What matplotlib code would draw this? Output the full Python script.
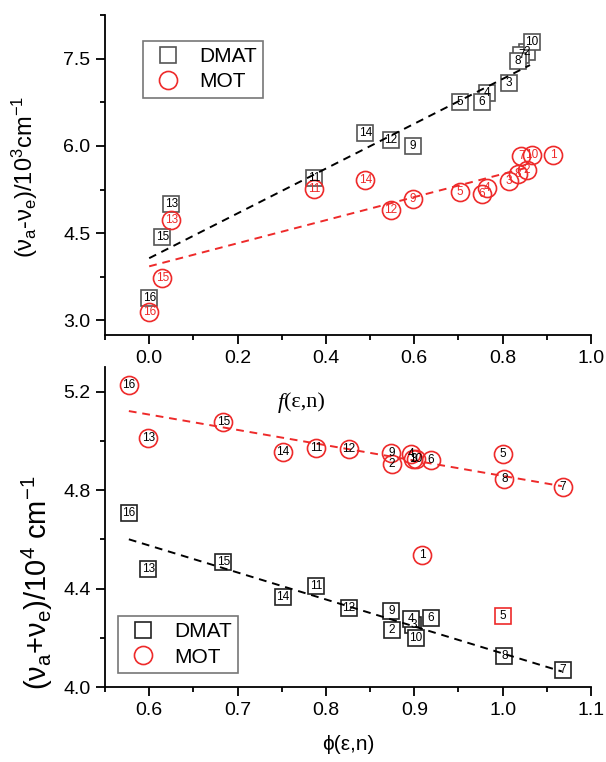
import numpy as np
import matplotlib
matplotlib.use("Agg")
import matplotlib.pyplot as plt
from matplotlib.ticker import MultipleLocator
from matplotlib.lines import Line2D

plt.rcParams["font.family"] = ["Liberation Sans", "DejaVu Sans"]
plt.rcParams["mathtext.fontset"] = "custom"
plt.rcParams["mathtext.rm"] = "Liberation Sans"
plt.rcParams["mathtext.it"] = "Liberation Sans:italic"

RED = "#ee2a2a"

# solvent numbers 1..16
solvent_ids = list(range(1, 17))
f_vals = [0.914, 0.855, 0.814, 0.764, 0.703, 0.753, 0.842, 0.835,
          0.596, 0.866, 0.373, 0.547, 0.050, 0.489, 0.030, 0.0]
phi_vals = [0.909, 0.875, 0.899, 0.896, 1.000, 0.919, 1.068, 1.002,
            0.874, 0.902, 0.789, 0.826, 0.599, 0.751, 0.684, 0.577]

# (va - ve) / 10^3 cm-1 ; DMAT has no value for solvent 1
dmat_diff = [np.nan, 7.61, 7.08, 6.91, 6.76, 6.76, 7.56, 7.46,
             6.00, 7.78, 5.44, 6.10, 5.00, 6.22, 4.44, 3.39]
mot_diff = [5.85, 5.58, 5.40, 5.27, 5.21, 5.17, 5.82, 5.52,
            5.09, 5.85, 5.26, 4.89, 4.72, 5.41, 3.73, 3.15]

# (va + ve) / 10^4 cm-1
dmat_sum = [np.nan, 4.230, 4.251, 4.278, 4.290, 4.281, 4.070, 4.126,
            4.308, 4.201, 4.410, 4.319, 4.479, 4.366, 4.508, 4.705]
mot_sum = [4.535, 4.905, 4.925, 4.947, 4.947, 4.922, 4.811, 4.845,
           4.949, 4.926, 4.970, 4.966, 5.010, 4.956, 5.078, 5.227]

# fitted lines (end points)
top_fit_x = [0.0, 0.862]
dmat_diff_fit = [4.07, 7.39]
mot_diff_fit = [3.93, 5.64]
bot_fit_x = [0.577, 1.067]
dmat_sum_fit = [4.600, 4.063]
mot_sum_fit = [5.121, 4.816]

# DMAT point drawn with red outline in the lower panel
red_square_ids = [5]


def style_axes(ax):
    ax.spines["top"].set_visible(False)
    ax.spines["right"].set_visible(False)
    for s in ("left", "bottom"):
        ax.spines[s].set_linewidth(1.3)
    ax.tick_params(which="major", direction="out", length=6.5, width=1.3,
                   labelsize=14, pad=4)
    ax.tick_params(which="minor", direction="out", length=3.5, width=1.3)


def draw_points(ax, xs, ys, marker, edge, text_color, size, face, z):
    for n, x, y in zip(solvent_ids, xs, ys):
        if np.isnan(y):
            continue
        ec = edge
        if marker == "s" and edge != "#555555" and n in red_square_ids:
            ec = RED
        ax.plot(x, y, marker=marker, ms=size, mfc=face, mec=ec, mew=1.2,
                ls="none", zorder=z)
        ax.text(x, y, str(n), ha="center", va="center", fontsize=8.5,
                color=text_color, zorder=10)


fig = plt.figure(figsize=(6.06, 7.62), dpi=100)
ax1 = fig.add_axes([105 / 606, 1 - 335 / 762, 486 / 606, 320 / 762])
ax2 = fig.add_axes([105 / 606, 1 - 687 / 762, 486 / 606, 320 / 762])

# upper panel
style_axes(ax1)
draw_points(ax1, f_vals, dmat_diff, "s", "#555555", "black", 12, "white", 3)
draw_points(ax1, f_vals, mot_diff, "o", RED, RED, 13, "none", 4)
ax1.plot(top_fit_x, dmat_diff_fit, color="black", ls=(0, (4, 3)), lw=1.4, zorder=5)
ax1.plot(top_fit_x, mot_diff_fit, color=RED, ls=(0, (4, 3)), lw=1.4, zorder=5)
ax1.set_xlim(-0.1, 1.0)
ax1.set_ylim(2.75, 8.25)
ax1.xaxis.set_major_locator(MultipleLocator(0.2))
ax1.xaxis.set_minor_locator(MultipleLocator(0.1))
ax1.yaxis.set_major_locator(MultipleLocator(1.5))
ax1.yaxis.set_minor_locator(MultipleLocator(0.75))
ax1.yaxis.set_major_formatter(plt.FormatStrFormatter("%.1f"))

h1 = [Line2D([], [], marker="s", ms=12, mfc="none", mec="#555555", mew=1.2, ls="none"),
      Line2D([], [], marker="o", ms=13, mfc="none", mec=RED, mew=1.2, ls="none")]
leg1 = ax1.legend(h1, ["DMAT", "MOT"], loc="upper left",
                  bbox_to_anchor=(0.078, 0.919), borderaxespad=0, fontsize=15,
                  frameon=True, fancybox=False, edgecolor="#555555",
                  handletextpad=0.6, labelspacing=0.3, borderpad=0.3,
                  handlelength=1.8)
leg1.get_frame().set_linewidth(1.2)

fig.text(25 / 606, 1 - 177 / 762,
         "(ν$_\\mathrm{a}$-ν$_\\mathrm{e}$)/10$^\\mathrm{3}$cm$^\\mathrm{-1}$",
         rotation=90, ha="center", va="center", fontsize=17)

# lower panel
style_axes(ax2)
draw_points(ax2, phi_vals, dmat_sum, "s", "#222222", "black", 12, "white", 3)
draw_points(ax2, phi_vals, mot_sum, "o", RED, "black", 13, "none", 4)
ax2.plot(bot_fit_x, dmat_sum_fit, color="black", ls=(0, (4, 3)), lw=1.4, zorder=5)
ax2.plot(bot_fit_x, mot_sum_fit, color=RED, ls=(0, (4, 3)), lw=1.4, zorder=5)
ax2.set_xlim(0.55, 1.1)
ax2.set_ylim(4.0, 5.3)
ax2.xaxis.set_major_locator(MultipleLocator(0.1))
ax2.xaxis.set_minor_locator(MultipleLocator(0.05))
ax2.yaxis.set_major_locator(MultipleLocator(0.4))
ax2.yaxis.set_minor_locator(MultipleLocator(0.2))
ax2.yaxis.set_major_formatter(plt.FormatStrFormatter("%.1f"))

h2 = [Line2D([], [], marker="s", ms=12, mfc="none", mec="#222222", mew=1.2, ls="none"),
      Line2D([], [], marker="o", ms=13, mfc="none", mec=RED, mew=1.2, ls="none")]
leg2 = ax2.legend(h2, ["DMAT", "MOT"], loc="lower left",
                  bbox_to_anchor=(0.027, 0.044), borderaxespad=0, fontsize=15,
                  frameon=True, fancybox=False, edgecolor="#555555",
                  handletextpad=0.6, labelspacing=0.3, borderpad=0.3,
                  handlelength=1.8)
leg2.get_frame().set_linewidth(1.2)

ax2.set_xlabel("ϕ(ε,n)", fontsize=15, labelpad=12)
fig.text(37 / 606, 1 - 583 / 762,
         "(ν$_\\mathrm{a}$+ν$_\\mathrm{e}$)/10$^\\mathrm{4}$ cm$^\\mathrm{-1}$",
         rotation=90, ha="center", va="center", fontsize=21)

# x label of the upper panel sits inside the lower panel area
fig.text(284 / 606, 1 - 403 / 762, "f", family="Liberation Serif",
         style="italic", fontsize=16, ha="right", va="center")
fig.text(284 / 606, 1 - 403 / 762, "(ε,n)", family="Liberation Serif",
         fontsize=16, ha="left", va="center")

fig.savefig("out.png", dpi=100)
